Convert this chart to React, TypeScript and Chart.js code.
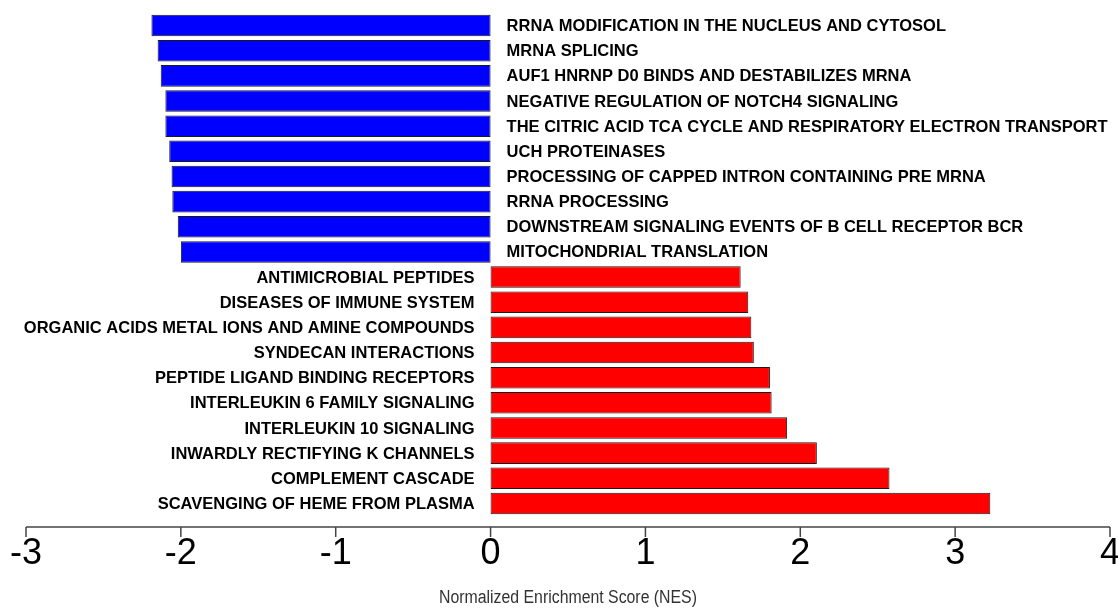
import React, { useEffect, useRef } from "react";
import { Chart, registerables } from "chart.js";

Chart.register(...registerables);

const categories: string[] = [
  "RRNA MODIFICATION IN THE NUCLEUS AND CYTOSOL",
  "MRNA SPLICING",
  "AUF1 HNRNP D0 BINDS AND DESTABILIZES MRNA",
  "NEGATIVE REGULATION OF NOTCH4 SIGNALING",
  "THE CITRIC ACID TCA CYCLE AND RESPIRATORY ELECTRON TRANSPORT",
  "UCH PROTEINASES",
  "PROCESSING OF CAPPED INTRON CONTAINING PRE MRNA",
  "RRNA PROCESSING",
  "DOWNSTREAM SIGNALING EVENTS OF B CELL RECEPTOR BCR",
  "MITOCHONDRIAL TRANSLATION",
  "ANTIMICROBIAL PEPTIDES",
  "DISEASES OF IMMUNE SYSTEM",
  "ORGANIC ACIDS METAL IONS AND AMINE COMPOUNDS",
  "SYNDECAN INTERACTIONS",
  "PEPTIDE LIGAND BINDING RECEPTORS",
  "INTERLEUKIN 6 FAMILY SIGNALING",
  "INTERLEUKIN 10 SIGNALING",
  "INWARDLY RECTIFYING K CHANNELS",
  "COMPLEMENT CASCADE",
  "SCAVENGING OF HEME FROM PLASMA",
];

const nesValues: number[] = [
  -2.19, -2.15, -2.13, -2.1, -2.1, -2.075, -2.06, -2.055, -2.02, -2.0,
  1.615, 1.664, 1.684, 1.7, 1.804, 1.815, 1.915, 2.107, 2.576, 3.227,
];

const xTicks: number[] = [-3, -2, -1, 0, 1, 2, 3, 4];
const xTitle = "Normalized Enrichment Score (NES)";

const labelPlugin = {
  id: "customLabels",
  afterDraw(chart: any) {
    const ctx = chart.ctx as CanvasRenderingContext2D;
    const xs = chart.scales.x;
    const ys = chart.scales.y;
    const area = chart.chartArea;
    const x0 = xs.getPixelForValue(0);
    ctx.save();
    // bar labels
    ctx.font = "bold 16.5px 'Liberation Sans', Arial, sans-serif";
    ctx.fillStyle = "#000";
    ctx.textBaseline = "middle";
    categories.forEach((c, i) => {
      const y = ys.getPixelForValue(i);
      if (nesValues[i] < 0) {
        ctx.textAlign = "left";
        ctx.fillText(c, x0 + 16, y + 1);
      } else {
        ctx.textAlign = "right";
        ctx.fillText(c, x0 - 16, y + 1);
      }
    });
    // axis
    const axisY = area.bottom + 11;
    ctx.strokeStyle = "#444";
    ctx.lineWidth = 1.5;
    ctx.beginPath();
    ctx.moveTo(xs.getPixelForValue(xTicks[0]), axisY);
    ctx.lineTo(xs.getPixelForValue(xTicks[xTicks.length - 1]), axisY);
    ctx.stroke();
    ctx.font = "36px 'Liberation Sans', Arial, sans-serif";
    ctx.fillStyle = "#000";
    ctx.textAlign = "center";
    ctx.textBaseline = "middle";
    xTicks.forEach((t) => {
      const px = xs.getPixelForValue(t);
      ctx.beginPath();
      ctx.moveTo(px, axisY);
      ctx.lineTo(px, axisY + 10);
      ctx.stroke();
      ctx.fillText(String(t), px, axisY + 27);
    });
    // title (horizontally condensed)
    ctx.font = "18px 'Liberation Sans', Arial, sans-serif";
    ctx.fillStyle = "#333";
    const cx = (area.left + area.right) / 2;
    ctx.translate(cx, 598);
    ctx.scale(0.88, 1);
    ctx.fillText(xTitle, 0, 0);
    ctx.restore();
  },
};

export default function App() {
  const ref = useRef<HTMLCanvasElement>(null);
  useEffect(() => {
    if (!ref.current) return;
    const chart = new Chart(ref.current, {
      type: "bar",
      data: {
        labels: categories,
        datasets: [
          {
            data: nesValues,
            backgroundColor: nesValues.map((v) => (v < 0 ? "#0000FF" : "#FF0000")),
            borderColor: "#1a1a1a",
            borderWidth: 1,
            borderSkipped: false,
            barPercentage: 0.855,
            categoryPercentage: 1,
          },
        ],
      },
      options: {
        indexAxis: "y",
        animation: false,
        responsive: false,
        maintainAspectRatio: false,
        layout: { padding: { left: 26, right: 8, top: 13, bottom: 92 } },
        plugins: { legend: { display: false }, tooltip: { enabled: false } },
        scales: {
          x: { display: false, min: -3, max: 4 },
          y: { display: false, offset: true },
        },
      },
      plugins: [labelPlugin],
    });
    return () => chart.destroy();
  }, []);
  return (
    <div style={{ position: "fixed", left: 0, top: 0, width: 1118, height: 608, background: "#fff" }}>
      <canvas ref={ref} width={1118} height={608} style={{ width: 1118, height: 608 }} />
    </div>
  );
}
